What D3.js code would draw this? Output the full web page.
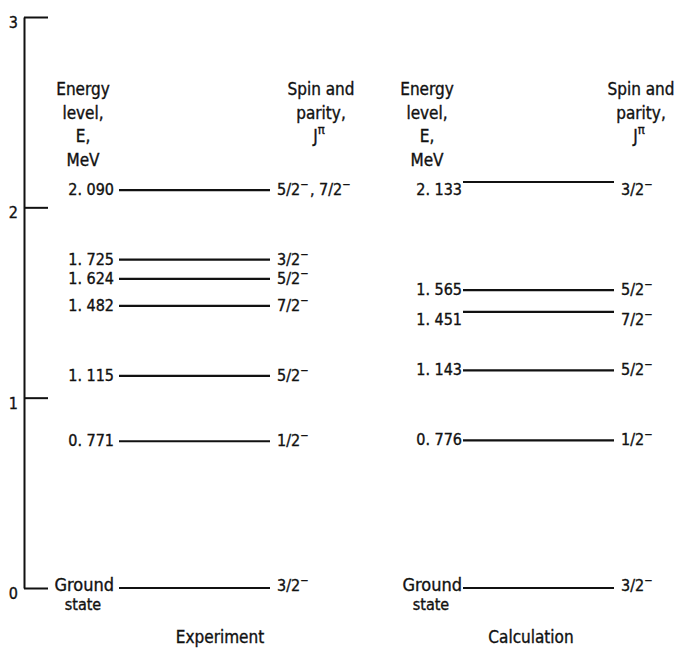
<!DOCTYPE html>
<html>
<head>
<meta charset="utf-8">
<script src="https://cdn.jsdelivr.net/npm/d3@7"></script>
<style>
  body { margin: 0; background: #fff; }
  svg text { font-family: "DejaVu Sans Condensed", "DejaVu Sans", sans-serif; font-stretch: condensed; fill: #111; stroke: #111; stroke-width: 0.35px; }
</style>
</head>
<body>
<svg id="chart" width="683" height="652"></svg>
<script>
// Energy levels, MeV
const studies = ["Experiment", "Calculation"];
const expEnergy = [0, 0.771, 1.115, 1.482, 1.624, 1.725, 2.090];
const expSpin = ["3/2−", "1/2−", "5/2−", "7/2−", "5/2−", "3/2−", "5/2−, 7/2−"];
const calcEnergy = [0, 0.776, 1.143, 1.451, 1.565, 2.133];
const calcSpin = ["3/2−", "1/2−", "5/2−", "7/2−", "5/2−", "3/2−"];
const axisTicks = [0, 1, 2, 3];

const levels = {
    Experiment: expEnergy.map((e, i) => ({ e, spin: expSpin[i] })),
    Calculation: calcEnergy.map((e, i) => ({ e, spin: calcSpin[i] }))
};

// per-column layout tweaks (offsets relative to line start)
const layout = {
    Experiment:  { gap: 5, energyCx: -36, spinCx: 202, titleCx: 101, below: [] },
    Calculation: { gap: 1, energyCx: -36, spinCx: 178, titleCx: 68, below: [1.451, 2.133] }
};
const lineLen = 151;

const svg = d3.select('#chart');

const y = d3.scaleLinear().domain([0, 3]).range([588, 17]);
const x = d3.scalePoint().domain(studies).range([119, 463]);

// left energy axis, ticks pointing inward
const axis = svg.append('g')
    .attr('transform', 'translate(24,0)')
    .call(d3.axisLeft(y).tickValues(axisTicks).tickSize(-24).tickSizeOuter(0).tickPadding(6).tickFormat(d3.format('d')));
axis.select('.domain').attr('stroke', '#111').attr('stroke-width', 2);
axis.selectAll('.tick line').attr('stroke', '#111').attr('stroke-width', 2);
axis.selectAll('.tick text')
    .attr('dy', '0.65em')
    .style('font-size', '16px')
    .style('font-family', '"DejaVu Sans Condensed", "DejaVu Sans", sans-serif')
    .attr('fill', '#111');

const fmt = d => d3.format('.3f')(d).replace('.', '. ');

// writes "5/2−" with a raised minus
function spinText(sel, s) {
    s.split(/(−)/).filter(p => p !== '').forEach(p => {
        if (p === '−') {
            sel.append('tspan').attr('dy', -7).style('font-size', '11px').text('−');
            sel.append('tspan').attr('dy', 7).text('\u200a');
        } else {
            sel.append('tspan').text(p);
        }
    });
}

studies.forEach(study => {
    const x0 = x(study);
    const L = layout[study];
    const g = svg.append('g');

    // column headers
    g.selectAll('text.hdr-e')
        .data(['Energy', 'level,', 'E,', 'MeV'])
        .join('text')
        .attr('class', 'hdr-e')
        .attr('x', x0 + L.energyCx)
        .attr('y', (d, i) => 95 + i * 23.5)
        .attr('text-anchor', 'middle')
        .style('font-size', '17px')
        .text(d => d);

    g.selectAll('text.hdr-s')
        .data(['Spin and', 'parity,'])
        .join('text')
        .attr('class', 'hdr-s')
        .attr('x', x0 + L.spinCx)
        .attr('y', (d, i) => 95 + i * 23.5)
        .attr('text-anchor', 'middle')
        .style('font-size', '17px')
        .text(d => d);

    const jp = g.append('text')
        .attr('x', x0 + L.spinCx - 2)
        .attr('y', 142)
        .attr('text-anchor', 'middle')
        .style('font-size', '17px');
    jp.append('tspan').text('J');
    jp.append('tspan').attr('dy', -8).style('font-size', '13px').text('π');

    const lv = levels[study];

    // level lines
    g.selectAll('line.level')
        .data(lv)
        .join('line')
        .attr('class', 'level')
        .attr('x1', x0)
        .attr('x2', x0 + lineLen)
        .attr('y1', d => y(d.e))
        .attr('y2', d => y(d.e))
        .attr('stroke', '#111')
        .attr('stroke-width', 2.2);

    const dyFor = d => L.below.includes(d.e) ? 13 : 5;

    // energy values
    g.selectAll('text.val')
        .data(lv.filter(d => d.e > 0))
        .join('text')
        .attr('class', 'val')
        .attr('x', x0 - L.gap)
        .attr('y', d => y(d.e) + dyFor(d))
        .attr('text-anchor', 'end')
        .style('font-size', '16px')
        .text(d => fmt(d.e));

    // ground state label
    g.append('text')
        .attr('x', x0 - L.gap)
        .attr('y', y(0) + 3)
        .attr('text-anchor', 'end')
        .style('font-size', '18px')
        .text('Ground');
    g.append('text')
        .attr('x', x0 - L.gap - 31)
        .attr('y', y(0) + 22)
        .attr('text-anchor', 'middle')
        .style('font-size', '16px')
        .text('state');

    // spin / parity
    g.selectAll('text.spin')
        .data(lv)
        .join('text')
        .attr('class', 'spin')
        .attr('x', x0 + lineLen + 7)
        .attr('y', d => y(d.e) + (d.e === 0 ? 3 : dyFor(d)))
        .style('font-size', '16px')
        .each(function (d) { spinText(d3.select(this), d.spin); });

    // column title
    g.append('text')
        .attr('x', x0 + L.titleCx)
        .attr('y', 643)
        .attr('text-anchor', 'middle')
        .style('font-size', '17px')
        .text(study);
});
</script>
</body>
</html>
